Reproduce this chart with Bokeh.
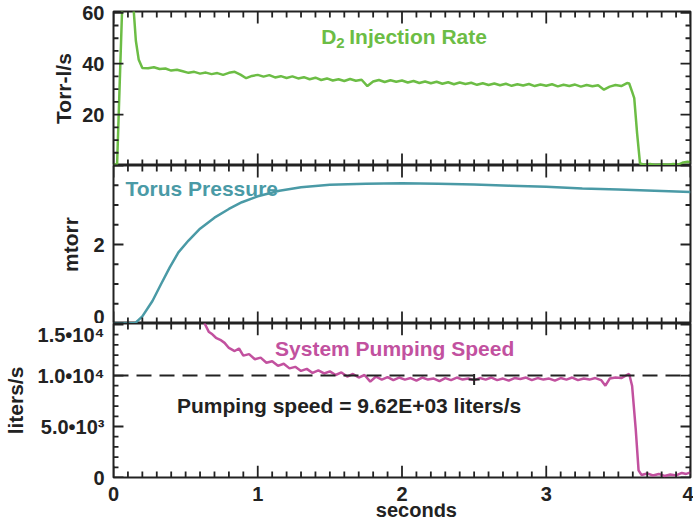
from bokeh.plotting import figure
from bokeh.models import Range1d, Label, Span, SingleIntervalTicker
from bokeh.layouts import column
from bokeh.embed import file_html
from bokeh.resources import INLINE

FONT = "Liberation Sans"
INK = "#222222"
GREEN = "#6cbd45"
TEAL = "#4a9aa6"
MAGENTA = "#c2519f"

# ---------------- data ----------------
x_ticks = [0, 1, 2, 3, 4]

# D2 injection rate (Torr-l/s)
green_t = [0.0, 0.025, 0.06, 0.085, 0.12, 0.14, 0.155, 0.175, 0.20,
           0.24, 0.28, 0.32, 0.36, 0.40, 0.44, 0.48, 0.52, 0.56, 0.60,
           0.64, 0.68, 0.72, 0.76, 0.80, 0.84, 0.88, 0.92, 0.96, 1.00,
           1.04, 1.08, 1.12, 1.16, 1.20, 1.24, 1.28, 1.32, 1.36, 1.40,
           1.44, 1.48, 1.52, 1.56, 1.60, 1.64, 1.68, 1.72, 1.76, 1.80,
           1.84, 1.88, 1.92, 1.96, 2.00, 2.04, 2.08, 2.12, 2.16, 2.20,
           2.24, 2.28, 2.32, 2.36, 2.40, 2.44, 2.48, 2.52, 2.56, 2.60,
           2.64, 2.68, 2.72, 2.76, 2.80, 2.84, 2.88, 2.92, 2.96, 3.00,
           3.04, 3.08, 3.12, 3.16, 3.20, 3.24, 3.28, 3.32, 3.36, 3.40,
           3.44, 3.48, 3.52, 3.56,
           3.575, 3.595, 3.61, 3.63, 3.65, 3.68, 3.72, 3.76, 3.80, 3.84,
           3.88, 3.92, 3.95, 3.98, 4.0]
green_v = [0.3, 0.5, 62.0, 95.0, 90.0, 61.0, 49.0, 41.5, 38.3,
           38.2, 38.6, 37.9, 38.1, 37.3, 37.6, 37.0, 36.4, 36.8, 36.1,
           36.5, 35.9, 36.3, 35.6, 36.4, 36.8, 35.7, 34.3, 35.2, 35.6,
           34.9, 35.5, 34.6, 35.1, 34.4, 35.0, 34.2, 34.7, 33.9, 34.5,
           33.6, 34.2, 33.4, 33.9, 33.2, 34.0, 33.3, 33.7, 31.2, 33.0,
           33.6, 32.8, 33.5, 32.9, 33.4, 32.6, 33.2, 32.4, 33.0, 32.3,
           32.9, 32.1, 32.7, 31.9, 32.6, 32.0, 32.5, 31.7, 32.3, 31.6,
           32.2, 31.5, 32.1, 31.3, 31.9, 31.4, 32.0, 31.2, 31.8, 31.3,
           31.9, 31.1, 31.7, 31.2, 31.8, 31.0, 31.6, 31.1, 31.5, 29.8,
           31.0, 31.6, 31.2, 32.4,
           32.2, 29.0, 26.5, 12.5, 0.8, 0.3, 0.6, 0.2, 0.5, 0.3,
           0.6, 0.4, 1.2, 1.5, 1.3]

# Torus pressure (mtorr)
teal_t = [0.0, 0.10, 0.15, 0.20, 0.27, 0.33, 0.39, 0.45, 0.52, 0.60,
          0.70, 0.80, 0.89, 1.00, 1.15, 1.30, 1.50, 1.75, 2.00, 2.25,
          2.50, 2.75, 3.00, 3.25, 3.50, 3.75, 4.00]
teal_v = [0.0, 0.0, 0.01, 0.18, 0.57, 1.00, 1.42, 1.80, 2.10, 2.40,
          2.68, 2.90, 3.07, 3.22, 3.36, 3.45, 3.51, 3.54, 3.55, 3.54,
          3.52, 3.49, 3.46, 3.42, 3.39, 3.36, 3.33]

# System pumping speed (liters/s)
pink_t = [0.63, 0.66, 0.68, 0.71, 0.74, 0.77, 0.80, 0.84, 0.87, 0.90,
          0.94, 0.98, 1.02, 1.06, 1.10, 1.14, 1.18, 1.22, 1.26, 1.30,
          1.34, 1.38, 1.42, 1.46, 1.50, 1.54, 1.58, 1.62, 1.66, 1.70,
          1.74, 1.78, 1.82, 1.86, 1.90, 1.94, 1.98, 2.02, 2.06, 2.10,
          2.14, 2.18, 2.22, 2.26, 2.30, 2.34, 2.38, 2.42, 2.46, 2.50,
          2.54, 2.58, 2.62, 2.66, 2.70, 2.74, 2.78, 2.82, 2.86, 2.90,
          2.94, 2.98, 3.02, 3.06, 3.10, 3.14, 3.18, 3.22, 3.26, 3.30,
          3.34, 3.38, 3.41, 3.44, 3.48, 3.52, 3.56, 3.575, 3.595, 3.62,
          3.64, 3.66, 3.70, 3.74, 3.78, 3.82, 3.86, 3.90, 3.94, 3.97, 4.0]
pink_v = [15150, 14300, 14100, 13700, 13500, 13200, 12700, 12400, 12650, 11950,
          12100, 11600, 11750, 11250, 11400, 10950, 11150, 10700, 10850, 10450,
          10650, 10250, 10500, 10200, 10400, 10050, 10300, 9900, 10150, 9800,
          10050, 9400, 9900, 9600, 9850, 9550, 9800, 9600, 9750, 9500,
          9800, 9600, 9700, 9450, 9750, 9550, 9800, 9600, 9700, 9550,
          9750, 9600, 9800, 9550, 9700, 9500, 9750, 9650, 9800, 9550,
          9750, 9600, 9700, 9500, 9750, 9600, 9800, 9550, 9700, 9600,
          9750, 9550, 9000, 9700, 9800, 9750, 10050, 10150, 9000, 4800,
          700, 250, 400, 200, 350, 150, 300, 200, 450, 350, 500]

dashed_level = 10000
marker_t = [2.5]
marker_v = [9620]

y3_labels = {0: "0", 5000: "5.0\u202210\u00b3", 10000: "1.0\u202210\u2074", 15000: "1.5\u202210\u2074"}

# ---------------- layout constants ----------------
X_END = 4.0
W = 693
LEFT, RIGHT = 111, 3
FRAME_W = W - LEFT - RIGHT
TICK_W = 1.8   # tick thickness, px


def make_fig(height, y_end, top, bottom, x_axis):
    p = figure(width=W, height=height, x_range=Range1d(0, X_END), y_range=Range1d(0, y_end),
               output_backend="svg", toolbar_location=None,
               x_axis_location="below" if x_axis else None, y_axis_location="left",
               min_border_left=LEFT, min_border_right=RIGHT,
               min_border_top=top, min_border_bottom=bottom)
    p.grid.visible = False
    p.outline_line_color = INK
    p.outline_line_width = 2
    p.background_fill_color = "white"
    p.border_fill_color = "white"
    return p


def style_axis(ax, interval, overrides=None, axis_label=None, label_standoff=8):
    ax.ticker = SingleIntervalTicker(interval=interval, num_minor_ticks=0)
    ax.axis_line_color = None
    ax.major_tick_line_color = None
    ax.minor_tick_line_color = None
    ax.major_label_text_font = FONT
    ax.major_label_text_font_style = "bold"
    ax.major_label_text_font_size = "20px"
    ax.major_label_text_color = INK
    ax.major_label_standoff = 3
    if overrides:
        ax.major_label_overrides = overrides
    if axis_label:
        ax.axis_label = axis_label
        ax.axis_label_text_font = FONT
        ax.axis_label_text_font_style = "bold"
        ax.axis_label_text_font_size = "21px"
        ax.axis_label_text_color = INK
        ax.axis_label_standoff = label_standoff


def inward_ticks(p, y_end, frame_h, y_step, y_minor_step):
    """Inward tick marks on all four frame sides, drawn as thin filled quads."""
    dx = X_END / FRAME_W
    dy = y_end / frame_h
    hw_x = TICK_W / 2 * dx
    hw_y = TICK_W / 2 * dy
    x_all = [i / 10.0 for i in range(41)]
    x_major = [float(v) for v in x_ticks]
    n_minor = int(round(y_end // y_minor_step)) + 1
    y_all = [i * y_minor_step for i in range(n_minor)]
    y_major = [v for v in y_all if abs(v / y_step - round(v / y_step)) < 1e-9]
    L, R, B, T = [], [], [], []
    for x in x_all:
        ln = 12 if any(abs(x - m) < 1e-9 for m in x_major) else 6
        L += [x - hw_x, x - hw_x]
        R += [x + hw_x, x + hw_x]
        B += [0.0, y_end - ln * dy]
        T += [ln * dy, y_end]
    for y in y_all:
        ln = 10 if any(abs(y - m) < 1e-9 for m in y_major) else 5
        L += [0.0, X_END - ln * dx]
        R += [ln * dx, X_END]
        B += [y - hw_y, y - hw_y]
        T += [y + hw_y, y + hw_y]
    p.quad(left=L, right=R, bottom=B, top=T, fill_color=INK, line_color=None)


def text(p, x, y, s, color, size="21px", align="left", baseline="middle", x_offset=0, y_offset=0):
    p.add_layout(Label(x=x, y=y, text=s, text_color=color, text_font=FONT, text_font_style="bold",
                       text_font_size=size, text_align=align, text_baseline=baseline,
                       x_offset=x_offset, y_offset=y_offset))

# ---------------- panel 1: injection rate ----------------
Y1, H1 = 60.5, 154
p1 = make_fig(11 + H1, Y1, 11, 0, False)
style_axis(p1.yaxis[0], 20, overrides={0: ""}, axis_label="Torr-l/s", label_standoff=4)
p1.line(green_t, green_v, line_color=GREEN, line_width=2.5)
inward_ticks(p1, Y1, H1, 20, 5)
text(p1, 1.44, 50.5, "D", GREEN)
text(p1, 1.44, 50.5, "2", GREEN, size="15px", x_offset=15, y_offset=-6)
text(p1, 1.44, 50.5, "Injection Rate", GREEN, x_offset=28)

# ---------------- panel 2: torus pressure ----------------
Y2, H2 = 4.0, 158
p2 = make_fig(H2, Y2, 0, 0, False)
style_axis(p2.yaxis[0], 2, overrides={4: ""}, axis_label="mtorr")
p2.line(teal_t, teal_v, line_color=TEAL, line_width=2.5)
inward_ticks(p2, Y2, H2, 2, 0.5)
text(p2, 0.083, 3.42, "Torus Pressure", TEAL)

# ---------------- panel 3: pumping speed ----------------
Y3, H3 = 15100, 157
p3 = make_fig(H3 + 23, Y3, 0, 23, True)
style_axis(p3.yaxis[0], 5000, overrides=y3_labels, axis_label="liters/s")
style_axis(p3.xaxis[0], 1)
p3.add_layout(Span(location=dashed_level, dimension="width", line_color=INK,
                   line_width=2, line_dash="15 8"))
p3.line(pink_t, pink_v, line_color=MAGENTA, line_width=2.5)
inward_ticks(p3, Y3, H3, 5000, 1000)
p3.scatter(marker_t, marker_v, marker="cross", size=11, line_color=INK, line_width=2)
text(p3, 1.12, 12600, "System Pumping Speed", MAGENTA)
text(p3, 0.44, 7050, "Pumping speed = 9.62E+03 liters/s", INK)

# ---------------- strip holding the x-axis title ----------------
p4 = figure(width=W, height=520 - (11 + H1) - H2 - (H3 + 23), x_range=Range1d(0, X_END),
            y_range=Range1d(0, 1), output_backend="svg", toolbar_location=None,
            x_axis_location=None, y_axis_location=None,
            min_border_left=LEFT, min_border_right=RIGHT, min_border_top=0, min_border_bottom=0)
p4.grid.visible = False
p4.outline_line_color = None
p4.background_fill_color = "white"
p4.border_fill_color = "white"
text(p4, 2.1, 0.6, "seconds", INK, size="20px", align="center")

layout = column(p1, p2, p3, p4, spacing=0)
open("out.html", "w").write(file_html(layout, INLINE))
